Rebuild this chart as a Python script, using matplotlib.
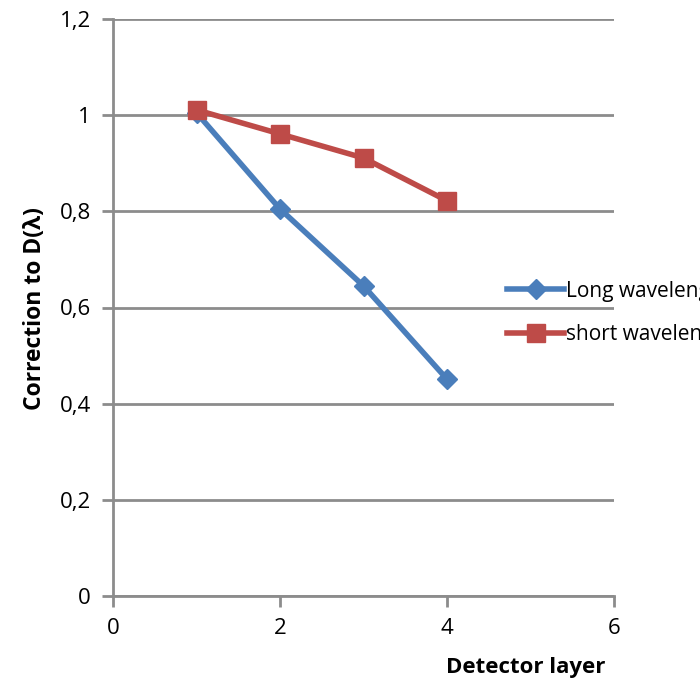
import matplotlib
matplotlib.use('Agg')
import matplotlib.pyplot as plt
from matplotlib.ticker import FuncFormatter

# data
layers = [1, 2, 3, 4]
long_wl = [1.005, 0.805, 0.645, 0.451]
short_wl = [1.011, 0.961, 0.911, 0.822]
series_names = ['Long wavelength', 'short wavelength']

plt.rcParams['font.family'] = ['Open Sans', 'DejaVu Sans']

fig = plt.figure(figsize=(7, 6.81), dpi=100)
ax = fig.add_axes([113 / 700, 1 - 596 / 681, (614 - 113) / 700, (596 - 19) / 681])

blue = '#4a7ebb'
red = '#be4b48'
ax.plot(layers, long_wl, color=blue, lw=4, marker='D', ms=10, mfc=blue, mec=blue,
        label=series_names[0], zorder=3)
ax.plot(layers, short_wl, color=red, lw=4, marker='s', ms=13, mfc=red, mec=red,
        label=series_names[1], zorder=4)

ax.set_xlim(0, 6)
ax.set_ylim(0, 1.2)
ax.set_xticks([0, 2, 4, 6])
ax.set_yticks([0, 0.2, 0.4, 0.6, 0.8, 1.0, 1.2])
fmt = FuncFormatter(lambda v, p: ('%g' % round(v, 2)).replace('.', ','))
ax.xaxis.set_major_formatter(fmt)
ax.yaxis.set_major_formatter(fmt)

ax.grid(axis='y', color='#8c8c8c', lw=2)
ax.set_axisbelow(True)
for s in ['top', 'right']:
    ax.spines[s].set_visible(False)
for s in ['left', 'bottom']:
    ax.spines[s].set_color('#8c8c8c')
    ax.spines[s].set_linewidth(2)
ax.tick_params(axis='both', colors='#8c8c8c', width=2, length=8, direction='out',
               labelsize=16, labelcolor='black')
ax.tick_params(axis='y', pad=8)
ax.tick_params(axis='x', pad=8)

fig.text(35 / 700, 1 - 309 / 681, 'Correction to D(λ)', rotation=90, fontsize=16.5,
         fontweight='bold', ha='center', va='center')
fig.text(526 / 700, 1 - 668 / 681, 'Detector layer', fontsize=16,
         fontweight='bold', ha='center', va='center')

ax.legend(loc='center left', bbox_to_anchor=(497 / 700, 1 - 313 / 681),
          bbox_transform=fig.transFigure, frameon=False, fontsize=15,
          handlelength=2.7, handletextpad=0.1, labelspacing=1.1, borderpad=0)

fig.savefig('out.png', dpi=100)
